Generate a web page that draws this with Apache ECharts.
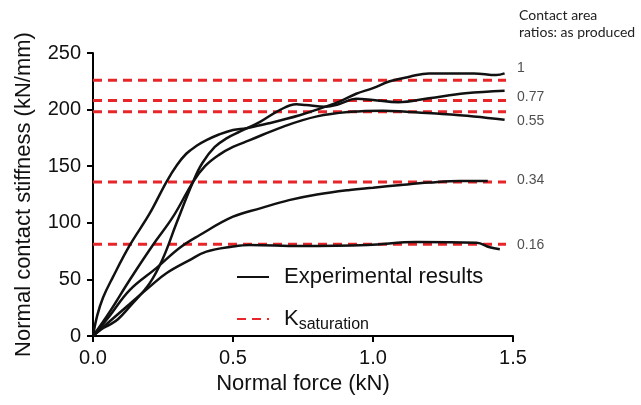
<!DOCTYPE html>
<html>
<head>
<meta charset="utf-8">
<script src="https://cdn.jsdelivr.net/npm/echarts@6/dist/echarts.min.js"></script>
<style>
  html, body { margin: 0; padding: 0; background: #fff; }
  #chart { width: 641px; height: 405px; }
</style>
</head>
<body>
<div id="chart"></div>
<script>
// experimental curves, [normal force kN, stiffness kN/mm]
var ratio1 = [[0, 0], [0.015, 18], [0.036, 34], [0.071, 52], [0.131, 80], [0.202, 108], [0.262, 136], [0.3, 151], [0.333, 161], [0.37, 168], [0.405, 173], [0.45, 178], [0.5, 182], [0.548, 183.5], [0.63, 188], [0.738, 195], [0.8, 200], [0.88, 207], [0.94, 214], [1.0, 219], [1.06, 225], [1.13, 229], [1.2, 232], [1.3, 232], [1.36, 232], [1.44, 230.5], [1.47, 232]];
var ratio077 = [[0, 0], [0.03, 6], [0.06, 10], [0.09, 15], [0.131, 26], [0.202, 46.5], [0.25, 68.6], [0.298, 99.6], [0.357, 136], [0.39, 152.6], [0.435, 167], [0.48, 175], [0.524, 180.5], [0.595, 189], [0.667, 199.6], [0.726, 204.7], [0.76, 204], [0.83, 202.6], [0.88, 205], [0.94, 209.5], [1.0, 208.5], [1.09, 206.5], [1.2, 210], [1.33, 214.4], [1.47, 216.7]];
var ratio055 = [[0, 0], [0.06, 21.5], [0.131, 49.5], [0.214, 80.4], [0.286, 105.4], [0.357, 136], [0.4, 150], [0.45, 160], [0.5, 167], [0.56, 173], [0.68, 185], [0.8, 194], [0.92, 198], [1.035, 199], [1.12, 198], [1.21, 196.7], [1.36, 194], [1.47, 191]];
var ratio034 = [[0, 0], [0.06, 18], [0.131, 40.6], [0.226, 60], [0.31, 78], [0.38, 89], [0.5, 105.4], [0.6, 113], [0.7, 120], [0.8, 125], [0.917, 129], [1.0, 131], [1.1, 133.4], [1.2, 135.5], [1.31, 137], [1.41, 137]];
var ratio016 = [[0, 0], [0.06, 13], [0.13, 28], [0.2, 43], [0.262, 55.4], [0.345, 67], [0.405, 74.5], [0.5, 79], [0.56, 80.4], [0.74, 79.5], [0.98, 80.4], [1.155, 83], [1.37, 82.4], [1.417, 78.4], [1.453, 76.6]];

// saturation stiffness per contact area ratio
var ratioNames = ['1', '0.77', '0.55', '0.34', '0.16'];
var kSaturation = [226, 208, 198, 136, 81];
var satEnd = 1.475;
// where the ratio names sit at the right
var ratioLabelY = [237, 211, 190, 138, 80.5];

var xTicks = ['0.0', '0.5', '1.0', '1.5'];

var series = [];
[ratio1, ratio077, ratio055, ratio034, ratio016].forEach(function(d) {
    series.push({
        name: 'Experimental results',
        type: 'line',
        data: d,
        symbol: 'none',
        smooth: 0.4,
        lineStyle: { color: '#111', width: 2.5 },
        itemStyle: { color: '#111' },
        z: 3
    });
});
kSaturation.forEach(function(k) {
    series.push({
        name: 'Ksat',
        type: 'line',
        data: [[0, k], [satEnd, k]],
        symbol: 'none',
        lineStyle: { color: '#e8262a', width: 3, type: [9, 6] },
        itemStyle: { color: '#e8262a' },
        z: 2
    });
});
series.push({
    type: 'scatter',
    data: ratioLabelY.map(function(y, i) { return [1.5, y, ratioNames[i]]; }),
    symbolSize: 0,
    silent: true,
    label: {
        show: true,
        position: 'right',
        distance: 4,
        formatter: function(p) { return p.value[2]; },
        color: '#222',
        fontSize: 14,
        fontFamily: 'Liberation Sans'
    }
});

var chart = echarts.init(document.getElementById('chart'));
chart.setOption({
    animation: false,
    title: {
        text: 'Contact area\nratios: as produced',
        left: 514,
        top: 2,
        textStyle: { fontSize: 14, fontWeight: 'normal', color: '#222', lineHeight: 17, fontFamily: 'Lato' }
    },
    legend: {
        orient: 'vertical',
        left: 231,
        top: 261,
        itemWidth: 32,
        itemHeight: 14,
        itemGap: 20,
        data: ['Experimental results', 'Ksat'],
        itemStyle: { opacity: 0 },
        textStyle: {
            fontSize: 22,
            color: '#111',
            fontFamily: 'Liberation Sans',
            padding: [0, 0, 0, 10],
            rich: {
                k: { fontSize: 22, color: '#111', fontFamily: 'Liberation Sans' },
                s: { fontSize: 16, color: '#111', fontFamily: 'Liberation Sans', padding: [11, 0, 0, 0] }
            }
        },
        formatter: function(name) {
            if (name === 'Ksat') return '{k|K}{s|saturation}';
            return name;
        }
    },
    grid: { left: 93, right: 128, top: 53, bottom: 69 },
    xAxis: {
        type: 'value',
        min: 0,
        max: 1.5,
        interval: 0.5,
        name: 'Normal force (kN)',
        nameLocation: 'middle',
        nameGap: 35,
        nameTextStyle: { fontSize: 22, color: '#111', fontFamily: 'Liberation Sans' },
        axisLine: { show: true, lineStyle: { color: '#000', width: 2 } },
        axisTick: { show: true, length: 6, lineStyle: { color: '#000', width: 2 } },
        axisLabel: {
            fontSize: 20, color: '#111', margin: 12, fontFamily: 'Liberation Sans',
            formatter: function(v) { return xTicks[Math.round(v / 0.5)]; }
        },
        splitLine: { show: false }
    },
    yAxis: {
        type: 'value',
        min: 0,
        max: 250,
        interval: 50,
        name: 'Normal contact stiffness (kN/mm)',
        nameLocation: 'middle',
        nameGap: 58,
        nameTextStyle: { fontSize: 22, color: '#111', fontFamily: 'Liberation Sans' },
        axisLine: { show: true, lineStyle: { color: '#000', width: 2 } },
        axisTick: { show: true, length: 6, lineStyle: { color: '#000', width: 2 } },
        axisLabel: { fontSize: 20, color: '#111', margin: 12, fontFamily: 'Liberation Sans' },
        splitLine: { show: false }
    },
    series: series
});
</script>
</body>
</html>
